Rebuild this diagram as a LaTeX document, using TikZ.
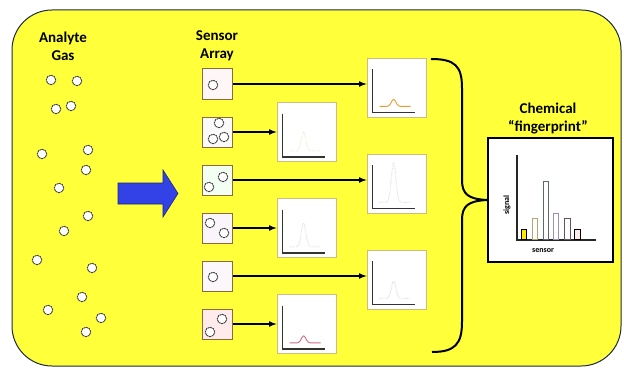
\documentclass[tikz,border=0pt]{standalone}
\usepackage{fontspec}
\setmainfont{Carlito}
\usepackage{xcolor}
\usepackage{tikz}
\usetikzlibrary{positioning}

\definecolor{panelyellow}{HTML}{FFFF3A}
\definecolor{paneledge}{HTML}{1E2A44}
\definecolor{arrowblue}{HTML}{3342E6}
\definecolor{sensoredge}{HTML}{8A6A3E}
\definecolor{graphedge}{HTML}{CDBB80}
\definecolor{peakorange}{HTML}{EE9A2A}
\definecolor{peakyellow}{HTML}{D8D090}
\definecolor{peakgreen}{HTML}{9AB4AC}
\definecolor{peaklilac}{HTML}{C8A4C8}
\definecolor{peakpurple}{HTML}{B49CC8}
\definecolor{peakred}{HTML}{D06C80}

\begin{document}
\begin{tikzpicture}[x=1pt,y=-1pt,node distance=48pt,on grid,>=latex,
  title/.style={font=\bfseries\fontsize{15}{18}\selectfont,align=center,inner sep=0pt},
  sensor/.style={draw=sensoredge,line width=1pt,minimum size=30pt,inner sep=0pt},
  graph/.style={draw=graphedge,fill=white,minimum size=59pt,inner sep=0pt,line width=0.8pt},
  molecule/.style={circle,draw=black!75,dash pattern=on 2pt off 0.6pt,fill=white,minimum size=9.5pt,inner sep=0pt,line width=0.9pt},
  flow/.style={->,line width=1.6pt}]
  \useasboundingbox (0,0) rectangle (624,369);
  \draw[paneledge,fill=panelyellow,line width=1pt,rounded corners=40pt] (12,10) rectangle (621,366);

  % headings
  \node[title] (gas)   at (63,46)  {Analyte\\Gas};
  \node[title] (array) at (217,46) {Sensor\\Array};
  \node[title] (chem)  at (548,119) {Chemical\\“fingerprint”};

  % gas molecules
  \foreach \mx/\my [count=\i] in {51/80,77/81,56/109,71/106,42/154,88/150,86/170,59/188,
      88/216,64/231,37/260,92/268,82/297,48/310,101/318,86/332}
    \node[molecule] (gas\i) at (\mx,\my) {};

  % blue arrow
  \draw[arrowblue!55!black,fill=arrowblue,line width=0.6pt]
    (118,183) -- (163,183) -- (163,170) -- (178,193.5) -- (163,217) -- (163,204) -- (118,204) -- cycle;

  % sensor array
  \node[sensor,fill=red!3]          (S1) at (217,84) {};
  \node[sensor,fill=black!2]        (S2) [below=of S1] {};
  \node[sensor,fill=green!5]        (S3) [below=of S2] {};
  \node[sensor,fill=violet!4]       (S4) [below=of S3] {};
  \node[sensor,fill=violet!3]       (S5) [below=of S4] {};
  \node[sensor,fill=red!8]          (S6) [below=of S5] {};

  \node[molecule] (s1a) at ([shift={(-4,1)}]S1) {};
  \node[molecule] (s2a) at ([shift={(2,-9)}]S2) {};
  \node[molecule] (s2b) at ([shift={(-4,7)}]S2) {};
  \node[molecule] (s2c) at ([shift={(7,5)}]S2) {};
  \node[molecule] (s3a) at ([shift={(6,-3)}]S3) {};
  \node[molecule] (s3b) at ([shift={(-8,7)}]S3) {};
  \node[molecule] (s4a) at ([shift={(-7,-5)}]S4) {};
  \node[molecule] (s4b) at ([shift={(7,5)}]S4) {};
  \node[molecule] (s5a) at ([shift={(-4,1)}]S5) {};
  \node[molecule] (s6a) at ([shift={(5,-5)}]S6) {};
  \node[molecule] (s6b) at ([shift={(-7,8)}]S6) {};

  % response graphs
  \node[graph] (G1) [right=179.5pt of S1,yshift=-3.5pt] {};
  \node[graph] (G2) [right=89.5pt of S2] {};
  \node[graph] (G3) [right=179.5pt of S3,yshift=-3.5pt] {};
  \node[graph] (G4) [right=89.5pt of S4] {};
  \node[graph] (G5) [right=179.5pt of S5,yshift=-3.5pt] {};
  \node[graph] (G6) [right=89.5pt of S6] {};

  \foreach \g/\ph/\pc/\pw in {G1/7/peakorange/80,G2/19/peakyellow/0.1,
      G3/40/peakgreen/0.1,G4/24/peaklilac/0.1,G5/17/peakpurple/0.1,G6/7/peakred/80}
  {
    \begin{scope}[shift={(\g.south west)},y=1pt]
      \draw[black!80,line width=1.4pt] (6,48) -- (6,5) -- (48,5);
      \draw[draw=\pc,dash pattern=on \pw pt off 1pt,line width=0.9pt]
        plot[domain=13:44,samples=60,smooth,variable=\t] (\t,{11+\ph*exp(-((\t-27)/3.2)^2)});
    \end{scope}
  }

  \draw[flow] (S1) -- (S1 -| G1.west);
  \draw[flow] (S2) -- (S2 -| G2.west);
  \draw[flow] (S3) -- (S3 -| G3.west);
  \draw[flow] (S4) -- (S4 -| G4.west);
  \draw[flow] (S5) -- (S5 -| G5.west);
  \draw[flow] (S6) -- (S6 -| G6.west);

  % fingerprint
  \node[draw,line width=2.5pt,fill=white,minimum width=125pt,minimum height=124pt,inner sep=0pt] (FP) at (550.5,200) {};
  \draw[line width=2pt] (431,59) .. controls (455,59) and (462,66) .. (462,88) -- (462,180)
    .. controls (462,194) and (468,199) .. (FP.west)
    .. controls (468,201) and (462,206) .. (462,220) -- (462,322)
    .. controls (462,344) and (455,352) .. (432,352);

  \draw[black!85,line width=1.4pt] (517,155) -- (517,240) -- (596,240);
  \draw[black,fill=yellow!90!orange,line width=0.9pt] (521,239) rectangle (526,229);
  \draw[peakyellow!80!black,line width=0.9pt] (532,239) rectangle (537,218);
  \draw[peakgreen!60!black,line width=0.9pt] (543,239) rectangle (548,181);
  \draw[peakpurple!90!black,line width=0.9pt] (553,239) rectangle (558,213);
  \draw[peaklilac!50!black,line width=0.9pt] (564,239) rectangle (570,218);
  \draw[black,fill=red!8,line width=0.9pt] (574,239) rectangle (580,229);
  \node[rotate=90,font=\bfseries\fontsize{8}{9}\selectfont] (siglabel) at (507,205) {signal};
  \node[font=\bfseries\fontsize{8}{9}\selectfont] (senlabel) at (543,251) {sensor};
\end{tikzpicture}
\end{document}
